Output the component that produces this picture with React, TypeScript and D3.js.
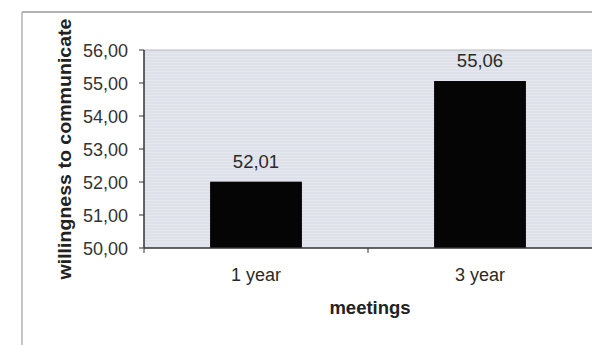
import React from "react";
import * as d3 from "d3";

const categories = ["1 year", "3 year"];
const values = [52.01, 55.06];
const yTicks = [50, 51, 52, 53, 54, 55, 56];
const yTitle = "willingness to communicate";
const xTitle = "meetings";

const W = 592, H = 345;
const plot = { left: 144, top: 50, right: 592, bottom: 248 };
const fmt = (v: number) => v.toFixed(2).replace(".", ",");

export default function App() {
  const y = d3.scaleLinear().domain([50, 56]).range([plot.bottom, plot.top]);
  const x = d3.scaleBand().domain(categories).range([plot.left, plot.right]);
  const bw = x.bandwidth() * 0.41;
  const cx = (c: string) => (x(c) as number) + x.bandwidth() / 2;
  const stripes = d3.range(plot.top + 2, plot.bottom, 3);
  const font = "Liberation Sans, Arial, sans-serif";
  return (
    <svg width={W} height={H} style={{ position: "absolute", left: 0, top: 0, background: "#fff" }}>
      <rect x={0} y={0} width={W} height={H} fill="#fff" />
      <line x1={22} y1={12} x2={W} y2={12} stroke="#9a9a9a" strokeWidth={1.5} />
      <line x1={22} y1={12} x2={22} y2={H} stroke="#b0b0b8" strokeWidth={1.5} />
      <rect x={plot.left} y={plot.top} width={plot.right - plot.left} height={plot.bottom - plot.top} fill="#e4e7ee" />
      {stripes.map((s, i) => (
        <line key={i} x1={plot.left} x2={plot.right} y1={s} y2={s} stroke="#d2d5dd" strokeWidth={0.6} />
      ))}
      <line x1={plot.left} x2={W} y1={plot.top} y2={plot.top} stroke="#b5b8c0" strokeWidth={1} />
      {categories.map((c, i) => (
        <rect key={c} x={cx(c) - bw / 2} y={y(values[i])} width={bw} height={plot.bottom - y(values[i])} fill="#050505" />
      ))}
      {categories.map((c, i) => (
        <text key={c + "v"} x={cx(c)} y={y(values[i]) - 14} textAnchor="middle" fontFamily={font} fontSize={18.5} fill="#2a2a2a">
          {fmt(values[i])}
        </text>
      ))}
      <line x1={plot.left} x2={plot.left} y1={plot.top} y2={plot.bottom} stroke="#333" strokeWidth={1.5} />
      <line x1={plot.left} x2={W} y1={plot.bottom} y2={plot.bottom} stroke="#333" strokeWidth={1.5} />
      {yTicks.map((t) => (
        <g key={t}>
          <line x1={plot.left - 5} x2={plot.left} y1={y(t)} y2={y(t)} stroke="#333" />
          <text x={128} y={y(t) + 6.5} textAnchor="end" fontFamily={font} fontSize={18} fill="#333">
            {fmt(t)}
          </text>
        </g>
      ))}
      {[plot.left, (plot.left + plot.right) / 2].map((t, i) => (
        <line key={i} x1={t} x2={t} y1={plot.bottom} y2={plot.bottom + 5} stroke="#333" />
      ))}
      {categories.map((c) => (
        <text key={c + "l"} x={cx(c)} y={281} textAnchor="middle" fontFamily={font} fontSize={18} fill="#2a2a2a">
          {c}
        </text>
      ))}
      <text x={370} y={314} textAnchor="middle" fontFamily={font} fontSize={18.5} fontWeight="bold" fill="#222">
        {xTitle}
      </text>
      <text transform={`translate(71,149) rotate(-90)`} textAnchor="middle" fontFamily={font} fontSize={18.5} fontWeight="bold" fill="#222" textLength={261} lengthAdjust="spacingAndGlyphs">
        {yTitle}
      </text>
    </svg>
  );
}
